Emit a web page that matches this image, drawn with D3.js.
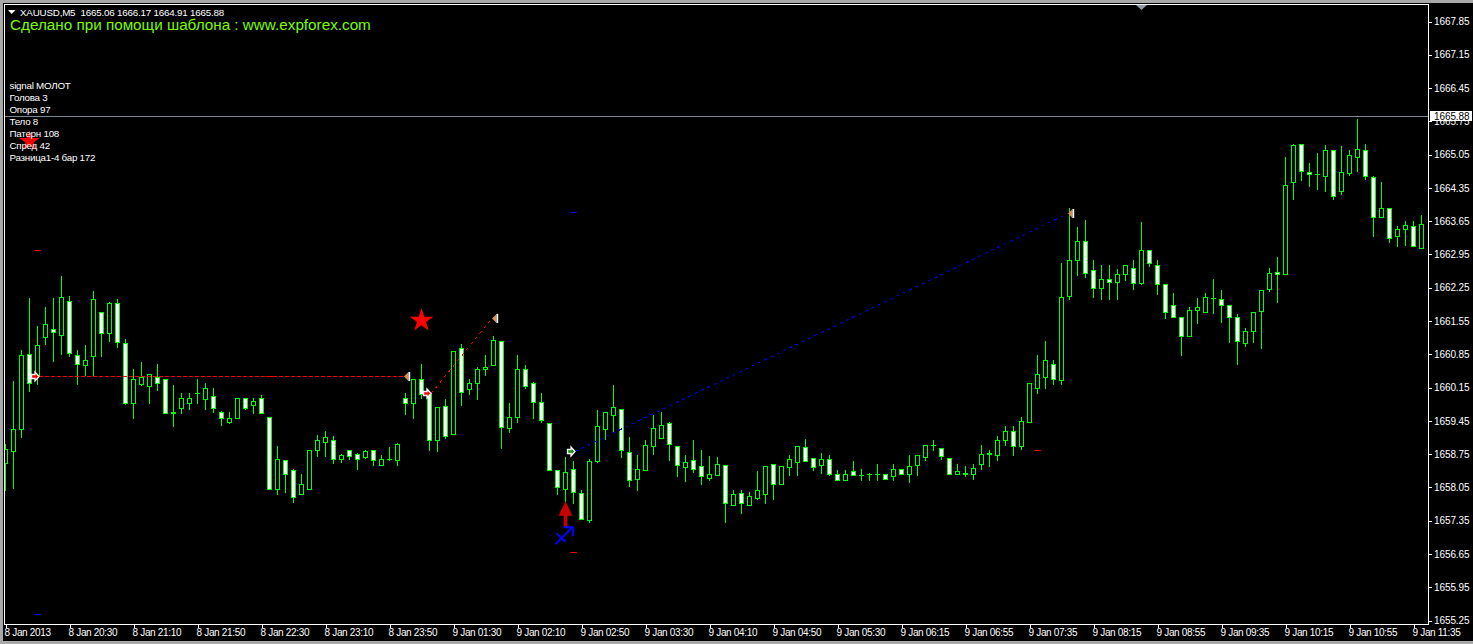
<!DOCTYPE html>
<html><head><meta charset="utf-8">
<script src="https://cdnjs.cloudflare.com/ajax/libs/d3/7.8.5/d3.min.js"></script>
<style>html,body{margin:0;padding:0;background:#000;overflow:hidden}svg{display:block}</style>
</head><body><svg id="c" width="1473" height="644"></svg>
<script>
const opens=[1658.56,1658.82,1659.28,1660.86,1660.41,1661.21,1661.38,1661.25,1661.97,1660.83,
1660.62,1660.81,1661.74,1661.30,1661.93,1661.09,1659.82,1660.22,1660.18,1660.37,
1660.33,1659.64,1659.72,1659.82,1660.04,1659.91,1659.97,1659.64,1659.43,1659.51,
1659.93,1659.78,1659.93,1659.53,1658.02,1658.63,1658.42,1657.91,1658.02,1658.84,
1659.00,1659.05,1658.65,1658.84,1658.75,1658.69,1658.84,1658.52,1658.65,1658.63,
1659.93,1659.82,1660.33,1660.04,1659.05,1659.76,1659.17,1660.98,1660.12,1660.25,
1660.54,1660.62,1661.13,1659.30,1659.53,1660.54,1660.25,1659.85,1659.40,1658.42,
1658.02,1658.44,1657.93,1657.36,1658.61,1659.28,1659.57,1659.70,1658.79,1658.23,
1658.42,1658.92,1659.09,1659.40,1658.92,1658.48,1658.63,1658.50,1658.25,1658.31,
1658.52,1657.68,1657.93,1657.68,1657.83,1657.91,1658.54,1658.12,1658.48,1658.58,
1658.90,1658.67,1658.52,1658.65,1658.33,1658.21,1658.40,1658.31,1658.33,1658.33,
1658.33,1658.29,1658.44,1658.33,1658.52,1658.69,1658.94,1658.88,1658.67,1658.33,
1658.35,1658.33,1658.54,1658.75,1658.73,1659.05,1659.24,1658.92,1659.43,1660.14,
1660.37,1660.65,1660.31,1662.08,1662.83,1663.23,1662.62,1662.24,1662.43,1662.37,
1662.54,1662.66,1662.35,1663.04,1662.73,1662.33,1661.89,1661.63,1661.23,1661.78,
1661.74,1662.03,1662.01,1661.89,1661.63,1661.09,1661.34,1661.76,1662.22,1662.58,
1662.54,1664.47,1665.27,1664.68,1664.64,1664.60,1665.15,1664.28,1664.66,1665.00,
1665.15,1664.58,1663.74,1663.93,1663.34,1663.48,1663.55,1663.08];
const highs=[1658.96,1660.29,1660.94,1662.03,1661.44,1661.84,1662.03,1662.50,1662.08,1660.94,
1661.04,1662.18,1661.74,1661.95,1662.01,1661.17,1660.54,1660.69,1660.43,1660.65,
1660.33,1660.20,1660.04,1660.04,1660.33,1660.25,1660.14,1659.66,1659.64,1659.93,
1659.93,1659.93,1660.00,1659.53,1658.92,1658.63,1658.44,1658.33,1658.84,1659.15,
1659.24,1659.13,1658.75,1658.84,1658.77,1658.84,1658.84,1658.73,1658.90,1658.98,
1660.04,1660.33,1660.65,1660.04,1659.74,1659.91,1660.92,1661.07,1660.33,1660.58,
1660.83,1661.23,1661.13,1659.82,1660.83,1660.62,1660.27,1660.04,1659.40,1658.42,
1658.69,1658.61,1658.00,1658.65,1659.68,1659.64,1660.20,1659.70,1659.11,1658.73,
1659.05,1659.57,1659.64,1659.43,1658.92,1658.73,1659.05,1658.84,1658.71,1658.69,
1658.52,1658.00,1658.00,1657.95,1658.40,1658.50,1658.54,1658.50,1658.73,1658.92,
1659.07,1658.67,1658.77,1658.73,1658.42,1658.42,1658.61,1658.44,1658.35,1658.54,
1658.33,1658.54,1658.44,1658.73,1658.73,1658.94,1659.05,1658.88,1658.67,1658.54,
1658.50,1658.54,1658.94,1658.84,1659.13,1659.34,1659.34,1659.53,1660.25,1660.83,
1661.13,1660.73,1662.77,1663.93,1663.53,1663.67,1662.83,1662.73,1662.73,1662.64,
1662.73,1662.83,1663.63,1663.04,1662.83,1662.33,1662.14,1661.63,1661.84,1662.03,
1662.14,1662.43,1662.20,1661.89,1661.70,1661.40,1661.74,1662.20,1662.66,1662.90,
1665.00,1665.27,1665.27,1664.87,1665.08,1665.25,1665.15,1665.23,1665.15,1665.80,
1665.27,1664.60,1664.47,1663.93,1663.55,1663.65,1663.65,1663.78];
const lows=[1658.00,1658.04,1659.11,1660.08,1660.22,1661.07,1660.71,1660.86,1660.81,1660.22,
1660.41,1660.41,1660.81,1661.13,1661.00,1659.80,1659.51,1660.20,1659.82,1660.10,
1659.61,1659.34,1659.61,1659.70,1659.82,1659.70,1659.64,1659.36,1659.40,1659.51,
1659.70,1659.61,1659.61,1658.02,1657.91,1657.95,1657.74,1657.91,1658.02,1658.71,
1658.71,1658.56,1658.58,1658.65,1658.44,1658.67,1658.52,1658.52,1658.63,1658.52,
1659.59,1659.51,1659.93,1658.84,1658.82,1659.09,1659.17,1659.78,1660.01,1659.91,
1660.41,1660.62,1658.88,1659.22,1659.43,1660.14,1659.51,1659.43,1658.42,1657.91,
1657.72,1657.72,1657.39,1657.32,1658.58,1659.07,1659.22,1658.69,1658.08,1658.00,
1658.42,1658.75,1659.09,1658.63,1658.29,1658.18,1658.37,1658.12,1658.21,1658.31,
1657.32,1657.68,1657.51,1657.68,1657.81,1657.72,1657.81,1658.12,1658.31,1658.31,
1658.61,1658.42,1658.35,1658.31,1658.21,1658.21,1658.31,1658.21,1658.21,1658.21,
1658.23,1658.21,1658.33,1658.16,1658.31,1658.63,1658.84,1658.65,1658.33,1658.33,
1658.29,1658.23,1658.44,1658.50,1658.63,1658.94,1658.73,1658.86,1659.43,1660.04,
1660.14,1660.22,1660.22,1662.01,1662.52,1662.47,1662.05,1662.01,1662.01,1662.01,
1662.41,1662.22,1662.33,1662.71,1662.12,1661.61,1661.63,1660.83,1661.23,1661.51,
1661.74,1661.72,1661.53,1661.11,1660.65,1661.02,1661.11,1660.98,1662.18,1661.95,
1662.54,1664.12,1664.51,1664.39,1664.33,1664.28,1664.12,1664.22,1664.62,1664.70,
1664.54,1663.34,1663.74,1663.21,1663.13,1663.15,1663.13,1663.08];
const closes=[1658.86,1659.28,1660.83,1660.25,1661.04,1661.49,1661.32,1662.05,1660.88,1660.65,
1660.73,1662.01,1661.30,1661.93,1661.11,1659.82,1660.33,1660.37,1660.43,1660.25,
1659.61,1659.61,1659.93,1659.93,1660.04,1660.14,1659.72,1659.51,1659.51,1659.93,
1659.72,1659.87,1659.61,1658.02,1658.65,1658.33,1657.85,1658.12,1658.84,1659.05,
1659.11,1658.65,1658.73,1658.71,1658.65,1658.82,1658.63,1658.65,1658.65,1658.96,
1659.82,1660.33,1660.01,1659.05,1659.74,1659.13,1660.92,1660.06,1660.25,1660.54,
1660.58,1661.15,1659.32,1659.53,1660.54,1660.18,1659.85,1659.47,1658.42,1658.06,
1658.37,1657.95,1657.39,1658.61,1659.34,1659.64,1659.74,1658.84,1658.21,1658.44,
1658.94,1659.30,1659.36,1658.96,1658.52,1658.58,1658.44,1658.29,1658.33,1658.54,
1657.72,1657.91,1657.72,1657.87,1658.00,1658.50,1658.12,1658.50,1658.65,1658.92,
1658.61,1658.48,1658.65,1658.33,1658.21,1658.33,1658.31,1658.31,1658.33,1658.33,
1658.23,1658.44,1658.33,1658.50,1658.73,1658.94,1658.94,1658.71,1658.33,1658.40,
1658.33,1658.46,1658.75,1658.77,1659.05,1659.24,1658.92,1659.45,1660.25,1660.43,
1660.73,1660.33,1662.05,1662.83,1663.23,1662.56,1662.24,1662.43,1662.37,1662.54,
1662.73,1662.35,1663.04,1662.77,1662.33,1661.74,1661.63,1661.23,1661.78,1661.84,
1662.05,1662.03,1661.89,1661.63,1661.13,1661.34,1661.74,1662.20,1662.56,1662.54,
1664.41,1665.25,1664.70,1664.64,1664.64,1665.15,1664.18,1664.68,1665.04,1665.17,
1664.60,1663.74,1663.93,1663.29,1663.48,1663.57,1663.13,1663.59];

const priceTicks=[1667.85,1667.15,1666.45,1665.75,1665.05,1664.35,1663.65,1662.95,1662.25,1661.55,1660.85,1660.15,1659.45,1658.75,1658.05,1657.35,1656.65,1655.95,1655.25];
const timeTickBars=[0,8,16,24,32,40,48,56,64,72,80,88,96,104,112,120,128,136,144,152,160,168,176];
const timeLabels=["8 Jan 2013","8 Jan 20:30","8 Jan 21:10","8 Jan 21:50","8 Jan 22:30","8 Jan 23:10","8 Jan 23:50","9 Jan 01:30","9 Jan 02:10","9 Jan 02:50","9 Jan 03:30","9 Jan 04:10","9 Jan 04:50","9 Jan 05:30","9 Jan 06:15","9 Jan 06:55","9 Jan 07:35","9 Jan 08:15","9 Jan 08:55","9 Jan 09:35","9 Jan 10:15","9 Jan 10:55","9 Jan 11:35"];
const headerText="XAUUSD,M5  1665.06 1666.17 1664.91 1665.88";
const templateNote="Сделано при помощи шаблона : www.expforex.com";
const infoLines=["signal МОЛОТ","Голова 3","Опора 97","Тело 8","Патерн 108","Спред 42","Разница1-4 бар 172"];
const lastPrice=1665.88;
const trendLines=[
 {from:4,fromPrice:1660.39,to:50,toPrice:1660.39,color:"#ff0000",head:"#ff0000",dash:"4,2"},
 {from:53,fromPrice:1660.03,to:61,toPrice:1661.62,color:"#ff0000",head:"#ff0000",dash:"3,4"},
 {from:71,fromPrice:1658.82,to:133,toPrice:1663.83,color:"#0000e6",head:"#128a12",dash:"3,4"}];
const levelDashes=[{bar:4,price:1663.04,color:"#ff0000"},{bar:71,price:1663.84,color:"#0000ff"},{bar:4,price:1655.39,color:"#0000ff"},{bar:129,price:1658.84,color:"#ff0000"},{bar:71,price:1656.69,color:"#ff0000"},{bar:33,price:1660.39,color:"#ff0000"}];
const stars=[{bar:52,price:1661.56,r:11.5},{bar:3,price:1665.33,r:10}];
const signalBar=70, signalPrice=1657.76, crossPrice=1657.0;

const svg=d3.select("#c");
const font="'Liberation Sans',Arial,sans-serif";
const x=d3.scaleLinear().domain([0,177]).range([5.5,1421.5]);
const y=d3.scaleLinear().domain([1655.25,1667.85]).range([620.5,21.5]);
const py=p=>Math.round(y(p))+0.5;
const GREEN="#00ff00";

svg.append("rect").attr("width",1473).attr("height",644).attr("fill","#a8a8a8");
svg.append("rect").attr("x",3).attr("y",3).attr("width",1470).attr("height",638).attr("fill","#000");

// stars
const starPath=d3.symbol().type(d3.symbolStar);
stars.forEach(s=>{
  const size=Math.PI*s.r*s.r*0.42;
  svg.append("path").attr("d",starPath.size(size)()).attr("fill","#ff0000")
    .attr("transform",`translate(${x(s.bar)},${y(s.price)})`);
});

// candles
const bars=d3.range(opens.length).map(i=>({i,o:opens[i],h:highs[i],l:lows[i],c:closes[i]}));
const gC=svg.append("g").attr("shape-rendering","crispEdges");
gC.selectAll("line.w").data(bars).join("line").attr("class","w")
  .attr("x1",d=>x(d.i)).attr("x2",d=>x(d.i))
  .attr("y1",d=>py(d.h)-0.5).attr("y2",d=>py(d.l)+0.5)
  .attr("stroke",GREEN);
gC.selectAll("rect.b").data(bars.filter(d=>py(d.o)!==py(d.c))).join("rect").attr("class","b")
  .attr("x",d=>x(d.i)-2).attr("width",4)
  .attr("y",d=>Math.min(py(d.o),py(d.c)))
  .attr("height",d=>Math.abs(py(d.o)-py(d.c)))
  .attr("fill",d=>d.c>d.o?"#000":"#fff").attr("stroke",GREEN);
gC.selectAll("line.d").data(bars.filter(d=>py(d.o)===py(d.c))).join("line").attr("class","d")
  .attr("x1",d=>x(d.i)-2.5).attr("x2",d=>x(d.i)+2.5)
  .attr("y1",d=>py(d.o)).attr("y2",d=>py(d.o)).attr("stroke",GREEN);

// level dashes
gC.selectAll("line.lv").data(levelDashes).join("line").attr("class","lv")
  .attr("x1",d=>x(d.bar)-3.5).attr("x2",d=>x(d.bar)+3.5)
  .attr("y1",d=>py(d.price)).attr("y2",d=>py(d.price)).attr("stroke",d=>d.color);

// trend lines with end markers
trendLines.forEach(t=>{
  const x1=x(t.from)+1.5,x2=x(t.to)-1.5,y1=py(t.fromPrice),y2=py(t.toPrice);
  svg.append("line").attr("x1",x1).attr("y1",y1).attr("x2",x2).attr("y2",y2)
    .attr("stroke",t.color).attr("stroke-dasharray",t.dash).attr("shape-rendering","crispEdges");
  svg.append("path").attr("d",`M${x2},${y2}L${x2+4.5},${y2-4.5}V${y2+4.5}Z`).attr("fill","#d8914a");
  svg.append("rect").attr("x",x2+4.5).attr("y",y2-4.5).attr("width",1.7).attr("height",9).attr("fill","#fff");
  svg.append("path").attr("d",`M${x1},${y1}l-4,-4.5v2.5h-3.5v4h3.5v2.5Z`).attr("fill",t.head).attr("stroke","#fff").attr("stroke-width",1.3);
});

// signal arrow and cross
const sx=x(signalBar), sy=y(signalPrice);
svg.append("path").attr("d",`M${sx},${sy}L${sx+7},${sy+14.5}H${sx+1.8}V${sy+25.5}H${sx-1.8}V${sy+14.5}H${sx-7}Z`).attr("fill","#c80000");
const cy=y(crossPrice);
svg.append("path").attr("d",`M${sx-10},${cy+7}L${sx+7},${cy-10}M${sx-2},${cy-10}H${sx+7.5}V${cy-1}M${sx-9},${cy-4}L${sx},${cy+4.5}`)
  .attr("fill","none").attr("stroke","#0000ff").attr("stroke-width",2);

// bid line
const bidY=Math.round(y(lastPrice)+0.5)+0.5;
svg.append("line").attr("x1",4).attr("x2",1428).attr("y1",bidY).attr("y2",bidY).attr("stroke","#778899");

// frame
svg.append("rect").attr("x",4.5).attr("y",4.5).attr("width",1424).attr("height",620).attr("fill","none").attr("stroke","#fff").attr("shape-rendering","crispEdges");
svg.append("rect").attr("x",3).attr("y",3).attr("width",1).attr("height",638).attr("fill","#000");

// shift marker and header triangle
svg.append("path").attr("d",`M${x(142)-5.5},5L${x(142)+5.5},5L${x(142)},10Z`).attr("fill","#8f9aa5");
svg.append("path").attr("d","M8,10H15.5L11.7,14Z").attr("fill","#fff");

// axes
const ax=svg.append("g").attr("transform","translate(0,624)")
 .call(d3.axisBottom(x).tickValues(timeTickBars).tickSize(4).tickFormat((d,i)=>timeLabels[i]));
ax.select(".domain").remove();
ax.selectAll("line").attr("stroke","#fff").attr("shape-rendering","crispEdges");
ax.selectAll("text").attr("fill","#fff").attr("font-family",font).attr("font-size",10).attr("text-anchor","start").attr("letter-spacing","-0.32").attr("dx",-1.5).attr("dy",0).attr("dominant-baseline","hanging").attr("y",5);

const ay=svg.append("g").attr("transform","translate(1428,0)")
 .call(d3.axisRight(y).tickValues(priceTicks).tickSize(4).tickFormat(d3.format(".2f")));
ay.select(".domain").remove();
ay.selectAll("line").attr("stroke","#fff").attr("shape-rendering","crispEdges");
ay.selectAll("text").attr("fill","#fff").attr("font-family",font).attr("font-size",10).attr("x",6).attr("letter-spacing","-0.1");

// last price tag
svg.append("rect").attr("x",1430).attr("y",111).attr("width",42).attr("height",10).attr("fill","#fff");
svg.append("text").attr("x",1434).attr("y",119.5).attr("fill","#000").attr("font-family",font).attr("font-size",10).attr("letter-spacing","-0.1").text(d3.format(".2f")(lastPrice));

// texts
svg.append("text").attr("x",20).attr("y",16).attr("fill","#fff").attr("font-family",font).attr("font-size",9.8).attr("letter-spacing","-0.2").style("white-space","pre").text(headerText);
svg.append("text").attr("x",10).attr("y",30).attr("fill","#7cfc00").attr("font-family",font).attr("font-size",15.25).text(templateNote);
svg.selectAll("text.info").data(infoLines).join("text").attr("class","info")
  .attr("x",9.5).attr("y",(d,i)=>89+12*i).attr("fill","#fff").attr("font-family",font).attr("font-size",9.8).attr("letter-spacing","-0.25").text(d=>d);
</script></body></html>
